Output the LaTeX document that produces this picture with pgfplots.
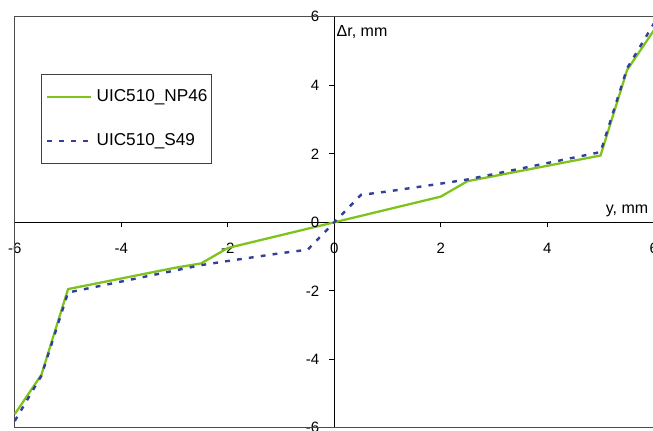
\documentclass[border=0pt]{standalone}
\usepackage{pgfplots}
\pgfplotsset{compat=1.18}
\usepackage{fontspec}
\setmainfont{Liberation Sans}
\definecolor{npgreen}{RGB}{125,195,25}
\definecolor{sblue}{RGB}{51,63,153}
\begin{document}
\begin{tikzpicture}
\useasboundingbox (0,0) rectangle (489.75pt,323.25pt);
\clip (0,0) rectangle (489.75pt,323.25pt);
\begin{axis}[
  at={(11.1pt,2.4pt)}, anchor=south west,
  scale only axis, width=479.25pt, height=308.25pt,
  xmin=-6, xmax=6, ymin=-6, ymax=6,
  axis lines=middle,
  axis line style={-, black, line width=0.75pt},
  xtick={-6,-4,-2,0,2,4,6}, ytick={-6,-4,-2,0,2,4,6},
  tick align=outside,
  major tick length=3.75pt,
  tick style={black, line width=0.75pt},
  /pgf/number format/assume math mode=true,
  ticklabel style={font=\fontsize{11.25}{13}\selectfont},
  xticklabel style={yshift=-8.6pt},
  yticklabel style={xshift=-4pt},
  clip=false,
  legend style={at={(axis cs:-5.5,4.34)}, anchor=north west,
    draw=black!75, line width=0.75pt, fill=white,
    font=\fontsize{12.9}{15}\selectfont,
    inner xsep=3.2pt, inner ysep=11.2pt, row sep=21.4pt, column sep=3pt,
    cells={anchor=west},
    nodes={inner sep=0pt, text height=9.3pt, text depth=2.3pt}},
  legend image code/.code={\draw[#1] (0pt,0pt) -- (33pt,0pt);},
]
\draw[black!70, line width=0.75pt] (rel axis cs:0,0) rectangle (rel axis cs:1,1);
\addplot[npgreen, line width=1.7pt] coordinates {
(-6,-5.6) (-5.5,-4.45) (-5,-1.95) (-3,-1.33) (-2.5,-1.2) (-2,-0.75) (0,0)
(2,0.75) (2.5,1.2) (3,1.35) (5,1.95) (5.5,4.45) (6,5.6)};
\addlegendentry{UIC510\_NP46}
\addplot[sblue, line width=1.8pt, dash pattern=on 3.6pt off 5.4pt] coordinates {
(-6,-5.8) (-5.5,-4.48) (-5,-2.05) (-2.5,-1.25) (-2,-1.13) (-1,-0.9) (-0.5,-0.8) (0,0)
(0.5,0.8) (1,0.9) (2,1.13) (2.5,1.25) (5,2.05) (5.5,4.5) (6,5.8)};
\addlegendentry{UIC510\_S49}
\node[anchor=north, font=\fontsize{11.25}{13}\selectfont, yshift=-12.35pt] at (axis cs:0,0) {0};
\node[anchor=east, font=\fontsize{11.25}{13}\selectfont, xshift=-7.75pt] at (axis cs:0,0) {0};
\node[anchor=base west, inner sep=0pt, font=\fontsize{12}{14}\selectfont] at (axis cs:0.04,5.42) {Δr, mm};
\node[anchor=base east, inner sep=0pt, font=\fontsize{12}{14}\selectfont] at (axis cs:5.9,0.26) {y, mm};
\end{axis}
\end{tikzpicture}
\end{document}
